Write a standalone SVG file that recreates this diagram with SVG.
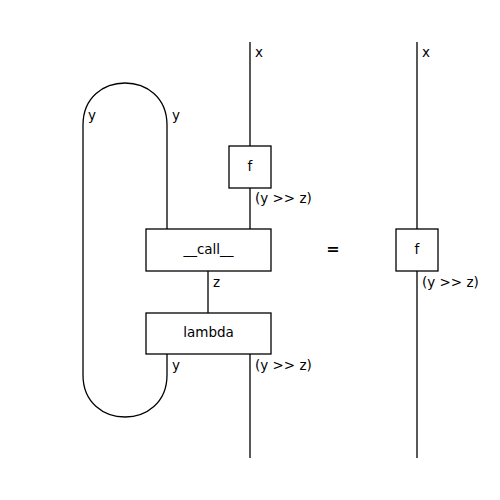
<svg xmlns="http://www.w3.org/2000/svg" width="500" height="500" viewBox="0 0 500 500">
<style>
.w{fill:none;stroke:#000;stroke-width:1.3}
.b{fill:#fff;stroke:#000;stroke-width:1.3}
text{font-family:"DejaVu Sans",sans-serif;font-size:13.5px;fill:#000}
.c{text-anchor:middle}
</style>
<rect width="500" height="500" fill="#fff"/>
<g id="connectors">
<path class="w" d="M250 42V146M250 188V229M208 271V313M250 354V458"/>
<path class="w" d="M167 229V125C167 69 83 69 83 125V375C83 431 167 431 167 375V354"/>
<path class="w" d="M417 42V229M417 271V458"/>
</g>
<g id="labels">
<text x="255" y="57">x</text>
<text x="88" y="120">y</text>
<text x="172" y="120">y</text>
<text x="255" y="203">(y &gt;&gt; z)</text>
<text x="213" y="287">z</text>
<text x="172" y="370">y</text>
<text x="255" y="370">(y &gt;&gt; z)</text>
<text x="422" y="57">x</text>
<text x="422" y="287">(y &gt;&gt; z)</text>
<text x="333" y="254" class="c" style="font-weight:bold;font-size:16px">=</text>
</g>
<g id="f"><rect class="b" x="229" y="146" width="42" height="42"/><text x="250" y="171" class="c">f</text></g>
<g id="call"><rect class="b" x="146" y="229" width="125" height="42"/><text x="208.5" y="254" class="c">__call__</text></g>
<g id="lambda"><rect class="b" x="146" y="313" width="125" height="41"/><text x="208.5" y="337" class="c">lambda</text></g>
<g id="f2"><rect class="b" x="396" y="229" width="42" height="42"/><text x="417" y="254" class="c">f</text></g>
</svg>
